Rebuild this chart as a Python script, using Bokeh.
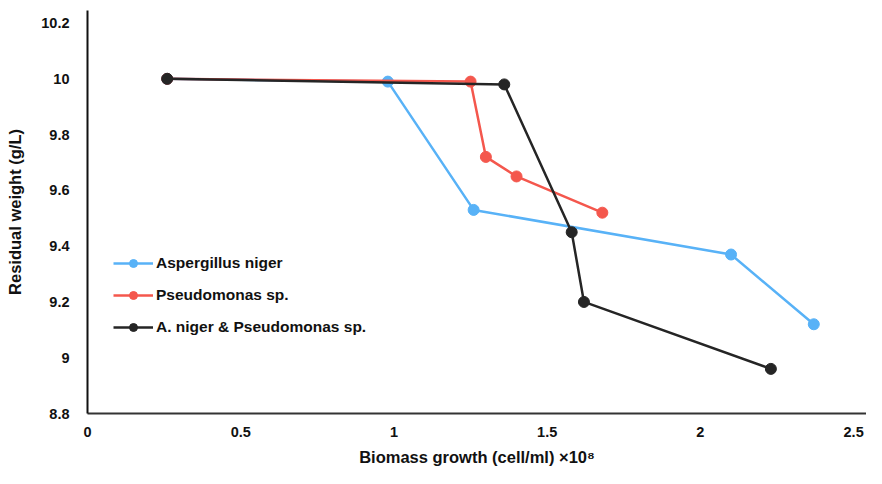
from bokeh.plotting import figure
from bokeh.models import Range1d, Legend, LegendItem
from bokeh.embed import file_html
from bokeh.resources import INLINE

asp_x = [0.26, 0.98, 1.26, 2.10, 2.37]
asp_y = [10.00, 9.99, 9.53, 9.37, 9.12]
pse_x = [0.26, 1.25, 1.30, 1.40, 1.68]
pse_y = [10.00, 9.99, 9.72, 9.65, 9.52]
mix_x = [0.26, 1.36, 1.58, 1.62, 2.23]
mix_y = [10.00, 9.98, 9.45, 9.20, 8.96]

x_ticks = [0, 0.5, 1, 1.5, 2, 2.5]
y_ticks = [8.8, 9, 9.2, 9.4, 9.6, 9.8, 10, 10.2]

FONT = "Liberation Sans"

p = figure(width=866, height=468, output_backend="svg", toolbar_location=None,
           x_range=Range1d(0, 2.542), y_range=Range1d(8.8, 10.245),
           min_border_left=87, min_border_right=0, min_border_top=10, min_border_bottom=53)
p.outline_line_color = None
p.xgrid.visible = False
p.ygrid.visible = False

series = [
    ("Aspergillus niger", asp_x, asp_y, "#58b2f7"),
    ("Pseudomonas sp.", pse_x, pse_y, "#f4574d"),
    ("A. niger & Pseudomonas sp.", mix_x, mix_y, "#252525"),
]
items = []
for name, xs, ys, col in series:
    l = p.line(xs, ys, line_color=col, line_width=2.5)
    c = p.scatter(xs, ys, size=11, fill_color=col, line_color=col)
    items.append(LegendItem(label=name, renderers=[l, c]))

for ax in (p.xaxis[0], p.yaxis[0]):
    ax.major_tick_line_color = None
    ax.minor_tick_line_color = None
    ax.axis_line_width = 2
    ax.major_label_text_font = FONT
    ax.major_label_text_font_style = "bold"
    ax.major_label_text_font_size = "14.5px"
    ax.major_label_text_color = "#111111"
    ax.axis_label_text_font = FONT
    ax.axis_label_text_font_style = "bold"
    ax.axis_label_text_font_size = "16.5px"
    ax.axis_label_text_color = "#111111"

p.xaxis.ticker = x_ticks
p.yaxis.ticker = y_ticks
p.xaxis.major_label_overrides = {0: "0", 0.5: "0.5", 1: "1", 1.5: "1.5", 2: "2", 2.5: "2.5"}
p.yaxis.major_label_overrides = {9: "9", 10: "10"}
p.xaxis.axis_line_color = "#333333"
p.yaxis.axis_line_color = "#111111"
p.xaxis.major_label_standoff = 7
p.yaxis.major_label_standoff = 12
p.xaxis.axis_label = "Biomass growth (cell/ml) \u00d710\u2078"
p.yaxis.axis_label = "Residual weight (g/L)"
p.xaxis.axis_label_standoff = 8
p.yaxis.axis_label_standoff = 14

legend = Legend(items=items, location=(26, 76), orientation="vertical",
                glyph_width=40, glyph_height=20, label_height=20, spacing=12,
                label_standoff=3, padding=0, margin=0,
                border_line_color=None, background_fill_alpha=0,
                label_text_font=FONT, label_text_font_style="bold",
                label_text_font_size="15.5px", label_text_color="#111111")
p.add_layout(legend)

open("out.html", "w").write(file_html(p, INLINE))
